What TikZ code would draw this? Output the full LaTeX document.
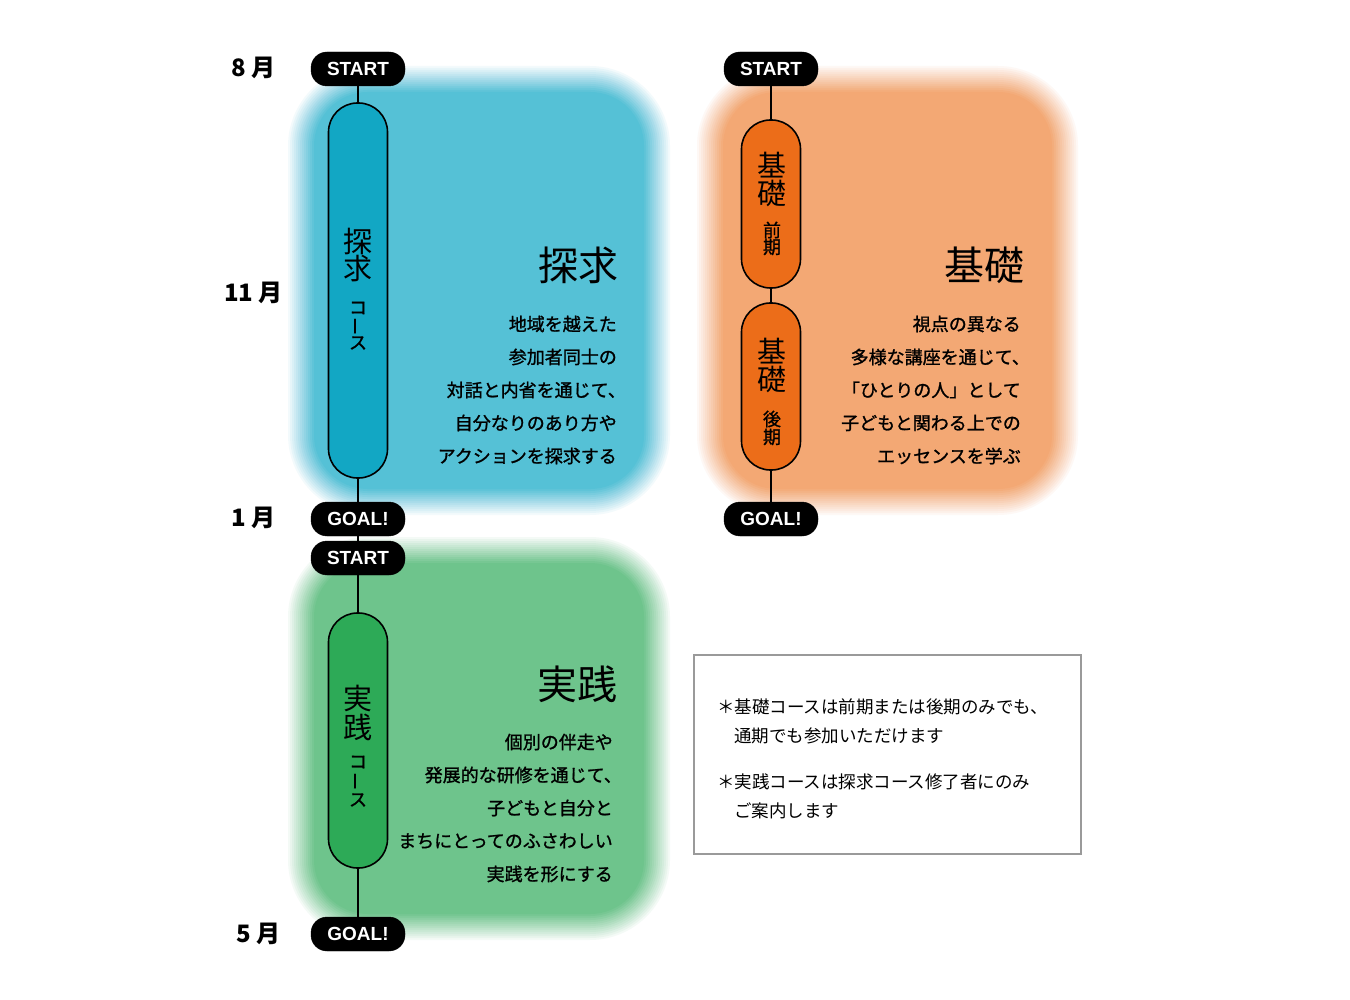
\documentclass[tikz,border=0pt]{standalone}
\usepackage{fontspec}
\setmainfont{Noto Sans CJK JP}
\newfontfamily\medf[FakeBold=1.2]{Noto Sans CJK JP}
\newfontfamily\latf{Liberation Sans}
\definecolor{bluebg}{HTML}{55C1D6}
\definecolor{bluepill}{HTML}{12A7C4}
\definecolor{orabg}{HTML}{F3A874}
\definecolor{orapill}{HTML}{EC6D19}
\definecolor{grebg}{HTML}{6EC48C}
\definecolor{grepill}{HTML}{2DAA57}
\definecolor{notegray}{HTML}{9A9A9A}
\newcommand\softbox[5]{%
  \foreach \k in {1,...,14}{%
    \pgfmathsetmacro\op{1/(15-\k)}%
    \pgfmathsetmacro\dd{(\k-1)*2}%
    \pgfmathsetmacro\rr{80-\dd}%
    \fill[#1, fill opacity=\op, rounded corners=\rr pt] (#2+\dd,#3+\dd) rectangle (#4-\dd,#5-\dd);
  }}
\tikzset{
  tag/.style={fill=black, draw=black, rounded corners=16pt, minimum width=94pt, minimum height=34pt, inner sep=0pt, text=white, font=\latf\bfseries\fontsize{19}{19}\selectfont},
  pill/.style={draw=black, line width=1.6pt, rounded corners=29pt, minimum width=59pt, inner sep=0pt},
  link/.style={draw=black, line width=1.8pt},
  bigv/.style={inner sep=0pt, font=\fontsize{29}{29}\selectfont},
  smallv/.style={inner sep=0pt, font=\medf\fontsize{18}{18}\selectfont},
  month/.style={inner sep=0pt, anchor=east, font=\bfseries\fontsize{24}{24}\selectfont},
  head/.style={inner sep=0pt, anchor=east, font=\fontsize{40}{40}\selectfont},
  body/.style={inner sep=0pt, anchor=east, font=\medf\fontsize{18}{18}\selectfont},
  notetxt/.style={inner sep=0pt, anchor=west, font=\fontsize{17.5}{17.5}\selectfont},
}
\begin{document}
\begin{tikzpicture}[x=1pt,y=-1pt]
\useasboundingbox (0,0) rectangle (1350,1000);
\fill[white] (0,0) rectangle (1350,1000);
% soft coloured panels
\softbox{bluebg}{288}{66}{670}{515}
\softbox{orabg}{697}{66}{1078}{515}
\softbox{grebg}{288}{537}{670}{940}

% month labels
\node[month] (m8) at (276,68) {8 月};
\node[month] (m11) at (283,293) {11 月};
\node[month] (m1) at (276,518) {1 月};
\node[month] (m5) at (281,934) {5 月};

% left timeline
\node[tag] (s1) at (358,69) {START};
\node[pill, fill=bluepill, minimum height=375pt] (p1) at (358,290.5) {};
\node[tag] (g1) at (358,519) {GOAL!};
\node[tag] (s2) at (358,558) {START};
\node[pill, fill=grepill, minimum height=255pt] (p3) at (358,740.5) {};
\node[tag] (g2) at (358,934) {GOAL!};
\draw[link] (s1) -- (p1);
\draw[link] (p1) -- (g1);
\draw[link] (g1) -- (s2);
\draw[link] (s2) -- (p3);
\draw[link] (p3) -- (g2);

% right timeline
\node[tag] (s3) at (771,69) {START};
\node[pill, fill=orapill, minimum height=168pt] (pa) at (771,204) {};
\node[pill, fill=orapill, minimum height=167pt] (pb) at (771,386.5) {};
\node[tag] (g3) at (771,519) {GOAL!};
\draw[link] (s3) -- (pa);
\draw[link] (pa) -- (pb);
\draw[link] (pb) -- (g3);

% vertical labels in pills
\node[bigv] (t1a) at (358,242) {探};
\node[bigv] (t1b) at (358,269) {求};
\node[smallv] (t1c) at (358,308) {コ};
\node[smallv, rotate=90] (t1d) at (358,326) {ー};
\node[smallv] (t1e) at (358,343) {ス};

\node[bigv] (taa) at (772,165) {基};
\node[bigv] (tab) at (772,193) {礎};
\node[smallv] (tac) at (772,230) {前};
\node[smallv] (tad) at (772,247) {期};

\node[bigv] (tba) at (772,351) {基};
\node[bigv] (tbb) at (772,379) {礎};
\node[smallv] (tbc) at (772,419) {後};
\node[smallv] (tbd) at (772,437) {期};

\node[bigv] (t3a) at (358,699) {実};
\node[bigv] (t3b) at (358,727) {践};
\node[smallv] (t3c) at (358,762) {コ};
\node[smallv, rotate=90] (t3d) at (358,781) {ー};
\node[smallv] (t3e) at (358,800) {ス};

% blue panel text
\node[head] (h1) at (619,265) {探求};
\node[body] (b11) at (617,324) {地域を越えた};
\node[body] (b12) at (617,357) {参加者同士の};
\node[body] (b13) at (626,390) {対話と内省を通じて、};
\node[body] (b14) at (617,423) {自分なりのあり方や};
\node[body] (b15) at (617,456) {アクションを探求する};

% orange panel text
\node[head] (h2) at (1025,265) {基礎};
\node[body] (b21) at (1021,324) {視点の異なる};
\node[body] (b22) at (1030,357) {多様な講座を通じて、};
\node[body] (b23) at (1021,390) {「ひとりの人」として};
\node[body] (b24) at (1021,423) {子どもと関わる上での};
\node[body] (b25) at (1021,456) {エッセンスを学ぶ};

% green panel text
\node[head] (h3) at (618,684) {実践};
\node[body] (b31) at (613,742) {個別の伴走や};
\node[body] (b32) at (622,775) {発展的な研修を通じて、};
\node[body] (b33) at (613,808) {子どもと自分と};
\node[body] (b34) at (613,841) {まちにとってのふさわしい};
\node[body] (b35) at (613,874) {実践を形にする};

% note box
\node[draw=notegray, line width=1.2pt, fill=white, minimum width=387pt, minimum height=199pt, inner sep=0pt] (note) at (887.5,754.5) {};
\node[notetxt] (n1) at (717,707) {＊基礎コースは前期または後期のみでも、};
\node[notetxt] (n2) at (734,736) {通期でも参加いただけます};
\node[notetxt] (n3) at (717,782) {＊実践コースは探求コース修了者にのみ};
\node[notetxt] (n4) at (734,811) {ご案内します};
\end{tikzpicture}
\end{document}
